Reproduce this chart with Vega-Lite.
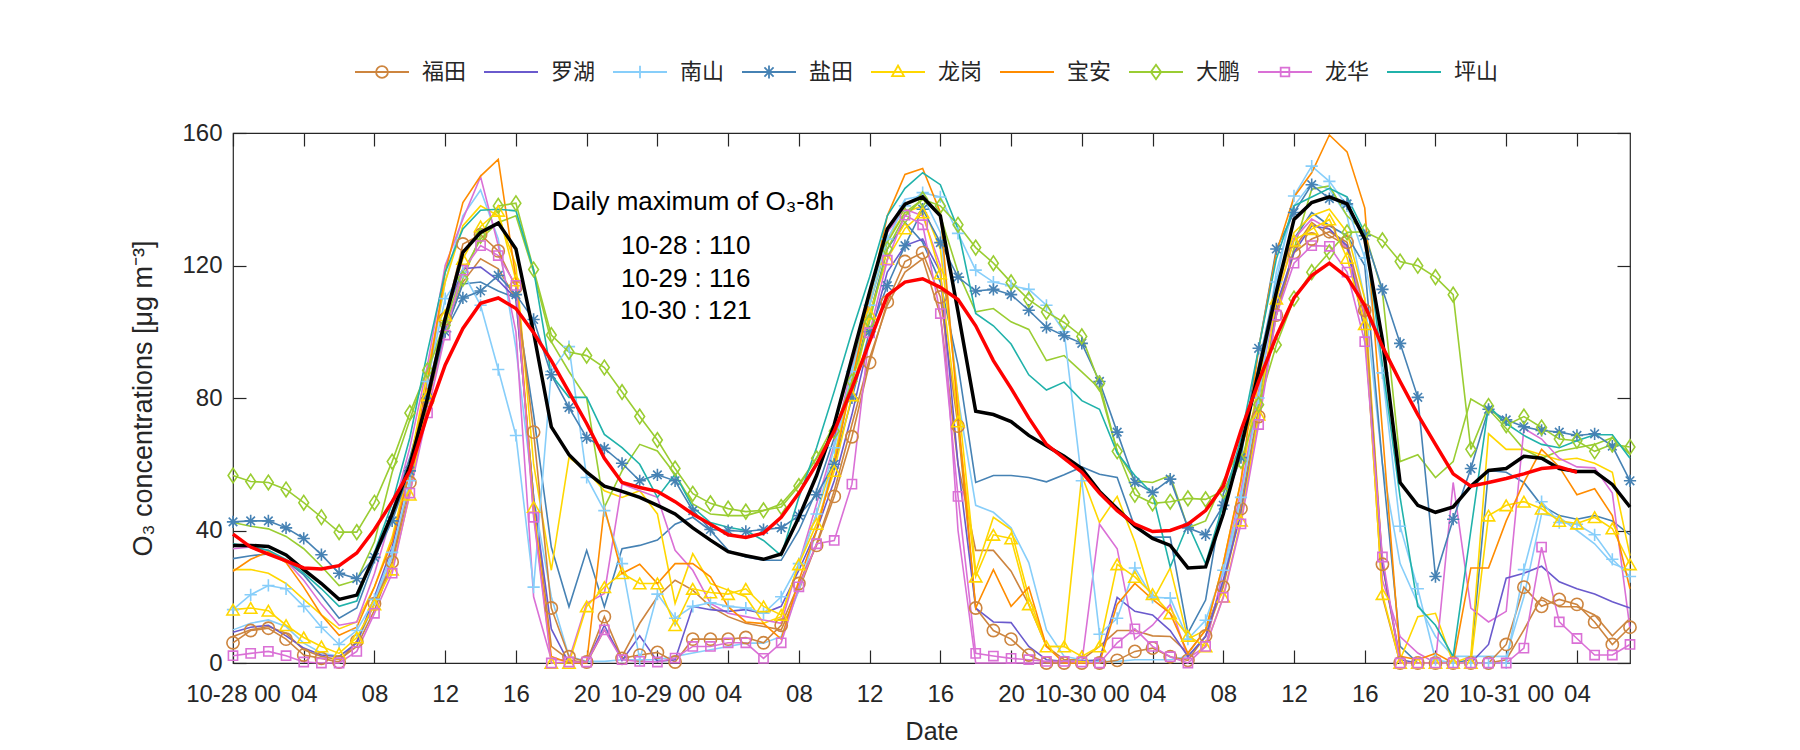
{
  "$schema": "https://vega.github.io/schema/vega-lite/v6.json",
  "width": 1397,
  "height": 530,
  "autosize": "none",
  "padding": {"left": 233, "top": 133, "right": 170, "bottom": 87},
  "background": "#ffffff",
  "config": {
    "view": {"stroke": "#262626", "strokeWidth": 1.2},
    "axis": {"grid": false, "domain": false, "tickColor": "#262626", "tickWidth": 1.2, "tickSize": -13, "labelColor": "#262626", "labelFont": "Liberation Sans", "labelFontSize": 24, "titleFont": "Liberation Sans", "titleFontSize": 25, "titleFontWeight": "normal", "titleColor": "#262626"}
  },
  "data": {"values": [
{"h":0,"福田":6.1,"福田b":8,"罗湖":9.3,"南山":16.1,"南山b":10,"盐田":42.6,"盐田b":31.5,"龙岗":16.1,"龙岗b":28.2,"宝安":27.7,"大鹏":56.6,"大鹏b":42.4,"龙华":2.2,"龙华b":34.5,"坪山":36,"avg":35.5,"ma8":38.9},
{"h":1,"福田":9.8,"福田b":10,"罗湖":10.8,"南山":20.6,"南山b":12,"盐田":42.9,"盐田b":32.4,"龙岗":16.6,"龙岗b":28.2,"宝安":31.3,"大鹏":54.8,"大鹏b":41.3,"龙华":2.9,"龙华b":35,"坪山":35.2,"avg":35.5,"ma8":35},
{"h":2,"福田":10.5,"福田b":11,"罗湖":11.4,"南山":23.4,"南山b":13,"盐田":42.9,"盐田b":32.9,"龙岗":15.8,"龙岗b":27.1,"宝安":33.6,"大鹏":54.5,"大鹏b":40.5,"龙华":3.5,"龙华b":34,"坪山":34,"avg":35.2,"ma8":32.9},
{"h":3,"福田":7.2,"福田b":9,"罗湖":8.2,"南山":22.4,"南山b":11,"盐田":40.8,"盐田b":30.8,"龙岗":11.4,"龙岗b":24,"宝安":30.3,"大鹏":52.4,"大鹏b":38.2,"龙华":2.2,"龙华b":30.8,"坪山":31.3,"avg":32.6,"ma8":30.8},
{"h":4,"福田":2.4,"福田b":4,"罗湖":4.5,"南山":17.1,"南山b":6,"盐田":37.6,"盐田b":26.6,"龙岗":7.7,"龙岗b":19.2,"宝安":22.9,"大鹏":48.4,"大鹏b":34.5,"龙华":0.3,"龙华b":25,"坪山":27.1,"avg":28.2,"ma8":28.7},
{"h":5,"福田":1.4,"福田b":2,"罗湖":2.4,"南山":10.8,"南山b":3,"盐田":32.7,"盐田b":20.3,"龙岗":5,"龙岗b":14.5,"宝安":14.5,"大鹏":44,"大鹏b":29.2,"龙华":0,"龙华b":17.7,"坪山":22.4,"avg":24,"ma8":28.4},
{"h":6,"福田":0.3,"福田b":1,"罗湖":1.9,"南山":5.6,"南山b":2,"盐田":27.1,"盐田b":13.5,"龙岗":2.9,"龙岗b":10.3,"宝安":8.4,"大鹏":39.5,"大鹏b":23.4,"龙华":0,"龙华b":11.4,"坪山":17.1,"avg":19.2,"ma8":29.4},
{"h":7,"福田":6.6,"福田b":5,"罗湖":6.1,"南山":9.8,"南山b":6,"盐田":25.5,"盐田b":16.6,"龙岗":7.7,"龙岗b":12.4,"宝安":10.8,"大鹏":39.5,"大鹏b":25,"龙华":3.5,"龙华b":12.4,"坪山":18.7,"avg":20.5,"ma8":33.2},
{"h":8,"福田":17.9,"福田b":16,"罗湖":20,"南山":19.2,"南山b":18,"盐田":31.9,"盐田b":31,"龙岗":17.7,"龙岗b":23,"宝安":23,"大鹏":48.4,"大鹏b":36.6,"龙华":15,"龙华b":27,"坪山":33.4,"avg":32.4,"ma8":40.3},
{"h":9,"福田":30.5,"福田b":30,"罗湖":35,"南山":33.4,"南山b":32,"盐田":42.9,"盐田b":46,"龙岗":28.2,"龙岗b":38,"宝安":36.6,"大鹏":60.8,"大鹏b":57.6,"龙华":27.1,"龙华b":45,"坪山":48.2,"avg":45,"ma8":48.7},
{"h":10,"福田":54.5,"福田b":52,"罗湖":58,"南山":55,"南山b":55,"盐田":58,"盐田b":62,"龙岗":50.8,"龙岗b":60,"宝安":58,"大鹏":75.5,"大鹏b":73.4,"龙华":51.3,"龙华b":65,"坪山":68,"avg":59.7,"ma8":58},
{"h":11,"福田":79.2,"福田b":78,"罗湖":82,"南山":85,"南山b":85,"盐田":80,"盐田b":82,"龙岗":80.8,"龙岗b":88,"宝安":85,"大鹏":88.4,"大鹏b":89,"龙华":75.5,"龙华b":90,"坪山":94,"avg":80,"ma8":75},
{"h":12,"福田":103.9,"福田b":100,"罗湖":105,"南山":110,"南山b":115,"盐田":100,"盐田b":100,"龙岗":105,"龙岗b":115,"宝安":118,"大鹏":102,"大鹏b":103,"龙华":99,"龙华b":120,"坪山":118,"avg":104,"ma8":90},
{"h":13,"福田":126.5,"福田b":115,"罗湖":119,"南山":118,"南山b":135,"盐田":110.2,"盐田b":114.4,"龙岗":122,"龙岗b":132,"宝安":139,"大鹏":116,"大鹏b":118,"龙华":118.6,"龙华b":134,"坪山":131,"avg":124,"ma8":101},
{"h":14,"福田":129.3,"福田b":122,"罗湖":119.5,"南山":108,"南山b":142.8,"盐田":112.3,"盐田b":115,"龙岗":131.8,"龙岗b":138,"宝安":147,"大鹏":129,"大鹏b":128,"龙华":126,"龙华b":146.8,"坪山":136.7,"avg":130,"ma8":108.6},
{"h":15,"福田":124.4,"福田b":119,"罗湖":115.5,"南山":88.6,"南山b":128,"盐田":117,"盐田b":112.3,"龙岗":136.5,"龙岗b":135,"宝安":152,"大鹏":138,"大鹏b":133,"龙华":123,"龙华b":126,"坪山":137,"avg":132.8,"ma8":110.2},
{"h":16,"福田":113.4,"福田b":110,"罗湖":110,"南山":68.7,"南山b":95,"盐田":111.2,"盐田b":110.2,"龙岗":115.5,"龙岗b":120,"宝安":116,"大鹏":138.8,"大鹏b":135,"龙华":114,"龙华b":100,"坪山":136.5,"avg":125,"ma8":107},
{"h":17,"福田":69.7,"福田b":50,"罗湖":50,"南山":22.9,"南山b":50,"盐田":103.7,"盐田b":75,"龙岗":47.1,"龙岗b":60,"宝安":45,"大鹏":118.8,"大鹏b":118,"龙华":44,"龙华b":20,"坪山":118.6,"avg":99.7,"ma8":99.7},
{"h":18,"福田":16.6,"福田b":5,"罗湖":10.3,"南山":88,"南山b":20,"盐田":87,"盐田b":35,"龙岗":0,"龙岗b":28,"宝安":2,"大鹏":99,"大鹏b":97,"龙华":0,"龙华b":1,"坪山":87,"avg":71.3,"ma8":91.3},
{"h":19,"福田":1.9,"福田b":1,"罗湖":0,"南山":95.5,"南山b":2,"盐田":77.1,"盐田b":17,"龙岗":0,"龙岗b":62,"宝安":0,"大鹏":93.9,"大鹏b":88,"龙华":0.3,"龙华b":1,"坪山":80.2,"avg":62.9,"ma8":81.8},
{"h":20,"福田":0.3,"福田b":0,"罗湖":0,"南山":56,"南山b":0.5,"盐田":68,"盐田b":34,"龙岗":17.1,"龙岗b":58,"宝安":0,"大鹏":92.8,"大鹏b":80,"龙华":0.3,"龙华b":18,"坪山":80.2,"avg":57.6,"ma8":72.3},
{"h":21,"福田":14,"福田b":10,"罗湖":11.4,"南山":46,"南山b":0.5,"盐田":64.8,"盐田b":17,"龙岗":22.9,"龙岗b":52,"宝安":47,"大鹏":89.2,"大鹏b":47,"龙华":10,"龙华b":21,"坪山":69,"avg":53.4,"ma8":61.8},
{"h":22,"福田":1.4,"福田b":2,"罗湖":0.8,"南山":30,"南山b":1,"盐田":60.3,"盐田b":34.5,"龙岗":27.1,"龙岗b":50,"宝安":27,"大鹏":81.8,"大鹏b":58,"龙华":1,"龙华b":54,"坪山":65,"avg":51.8,"ma8":54.5},
{"h":23,"福田":2.4,"福田b":12,"罗湖":8.2,"南山":1,"南山b":1,"盐田":55,"盐田b":35.5,"龙岗":24,"龙岗b":52,"宝安":29.8,"大鹏":74.4,"大鹏b":66,"龙华":0.5,"龙华b":52,"坪山":60,"avg":50,"ma8":53},
{"h":24,"福田":3.2,"福田b":20,"罗湖":0.5,"南山":20.8,"南山b":1,"盐田":56.8,"盐田b":37.1,"龙岗":24,"龙岗b":45,"宝安":24,"大鹏":67.3,"大鹏b":64,"龙华":0.3,"龙华b":50,"坪山":50,"avg":47.6,"ma8":51.8},
{"h":25,"福田":0.3,"福田b":25,"罗湖":1,"南山":13.5,"南山b":2,"盐田":55,"盐田b":41.9,"龙岗":11.4,"龙岗b":18,"宝安":30,"大鹏":58.7,"大鹏b":57,"龙华":1.5,"龙华b":34,"坪山":57,"avg":45,"ma8":48.7},
{"h":26,"福田":7.2,"福田b":22,"罗湖":17.1,"南山":17.1,"南山b":3,"盐田":46,"盐田b":44,"龙岗":22.4,"龙岗b":33,"宝安":30,"大鹏":51.1,"大鹏b":48,"龙华":5,"龙华b":28,"坪山":47,"avg":40.8,"ma8":45},
{"h":27,"福田":7.2,"福田b":17,"罗湖":16.1,"南山":18.2,"南山b":4,"盐田":40.3,"盐田b":40,"龙岗":21.3,"龙岗b":24,"宝安":26,"大鹏":48.2,"大鹏b":45,"龙华":5,"龙华b":18,"坪山":42.4,"avg":37.1,"ma8":41.9},
{"h":28,"福田":7.2,"福田b":14,"罗湖":15.6,"南山":17.1,"南山b":5,"盐田":40,"盐田b":34,"龙岗":20.8,"龙岗b":22,"宝安":17,"大鹏":46.6,"大鹏b":44.5,"龙华":6.1,"龙华b":15,"坪山":41,"avg":33.6,"ma8":38.7},
{"h":29,"福田":7.7,"福田b":12,"罗湖":16.1,"南山":16.6,"南山b":6,"盐田":39.7,"盐田b":32,"龙岗":22.4,"龙岗b":20,"宝安":12.4,"大鹏":45.7,"大鹏b":44.5,"龙华":6.1,"龙华b":14,"坪山":40,"avg":32.4,"ma8":37.9},
{"h":30,"福田":6.1,"福田b":11,"罗湖":15,"南山":15,"南山b":6,"盐田":40.3,"盐田b":31,"龙岗":17.1,"龙岗b":12,"宝安":11.9,"大鹏":46.1,"大鹏b":46,"龙华":1.4,"龙华b":13,"坪山":37,"avg":31.3,"ma8":39.2},
{"h":31,"福田":11.4,"福田b":10,"罗湖":17.1,"南山":20,"南山b":8,"盐田":40.8,"盐田b":31,"龙岗":14.5,"龙岗b":14,"宝安":7.2,"大鹏":47.1,"大鹏b":48,"龙华":6.1,"龙华b":12,"坪山":32.4,"avg":32.9,"ma8":44},
{"h":32,"福田":24,"福田b":22,"罗湖":28,"南山":30,"南山b":22,"盐田":44.5,"盐田b":40,"龙岗":29.8,"龙岗b":30,"宝安":25,"大鹏":53.4,"大鹏b":54,"龙华":23,"龙华b":30,"坪山":50,"avg":44,"ma8":51.3},
{"h":33,"福田":35.5,"福田b":36,"罗湖":40,"南山":45,"南山b":40,"盐田":50.8,"盐田b":52,"龙岗":42,"龙岗b":45,"宝安":40,"大鹏":61.8,"大鹏b":62,"龙华":36,"龙华b":48,"坪山":65,"avg":56.6,"ma8":60},
{"h":34,"福田":50.3,"福田b":52,"罗湖":55,"南山":65,"南山b":62,"盐田":60,"盐田b":68,"龙岗":58,"龙岗b":62,"宝安":60,"大鹏":70,"大鹏b":72,"龙华":37,"龙华b":66,"坪山":82,"avg":72,"ma8":70},
{"h":35,"福田":68.3,"福田b":72,"罗湖":75,"南山":88,"南山b":88,"盐田":80,"盐田b":85,"龙岗":80.8,"龙岗b":85,"宝安":85,"大鹏":85,"大鹏b":90,"龙华":54,"龙华b":90,"坪山":100,"avg":92,"ma8":83},
{"h":36,"福田":90.7,"福田b":92,"罗湖":98,"南山":108,"南山b":110,"盐田":100,"盐田b":105,"龙岗":105.5,"龙岗b":108,"宝安":110,"大鹏":103,"大鹏b":108,"龙华":99.7,"龙华b":112,"坪山":116.5,"avg":112,"ma8":97},
{"h":37,"福田":109,"福田b":108,"罗湖":118,"南山":128,"南山b":130,"盐田":113.9,"盐田b":125,"龙岗":122,"龙岗b":128,"宝安":135,"大鹏":125,"大鹏b":127,"龙华":121.6,"龙华b":130,"坪山":135,"avg":131,"ma8":111},
{"h":38,"福田":121.2,"福田b":118,"罗湖":126,"南山":138,"南山b":140,"盐田":126,"盐田b":133,"龙岗":131.2,"龙岗b":136,"宝安":147.5,"大鹏":135,"大鹏b":136,"龙华":135.2,"龙华b":137,"坪山":143.3,"avg":138.5,"ma8":115},
{"h":39,"福田":123.9,"福田b":122,"罗湖":128,"南山":142,"南山b":141,"盐田":137,"盐田b":127,"龙岗":136,"龙岗b":138,"宝安":149.3,"大鹏":140,"大鹏b":140,"龙华":132.3,"龙华b":135,"坪山":148,"avg":140.7,"ma8":116},
{"h":40,"福田":110.5,"福田b":105,"罗湖":118,"南山":140.7,"南山b":130,"盐田":126.9,"盐田b":115,"龙岗":117.6,"龙岗b":125,"宝安":136,"大鹏":138,"大鹏b":135,"龙华":105.5,"龙华b":120,"坪山":144.4,"avg":135,"ma8":113.4},
{"h":41,"福田":71.5,"福田b":60,"罗湖":60,"南山":129.7,"南山b":80,"盐田":116.5,"盐田b":90,"龙岗":72.9,"龙岗b":80,"宝安":75,"大鹏":132.3,"大鹏b":118,"龙华":50.3,"龙华b":40,"坪山":131,"avg":106,"ma8":109.7},
{"h":42,"福田":16.6,"福田b":34,"罗湖":16.6,"南山":118.6,"南山b":47.6,"盐田":112.3,"盐田b":54.5,"龙岗":26.1,"龙岗b":27.7,"宝安":16.6,"大鹏":125.4,"大鹏b":106,"龙华":2.9,"龙华b":0,"坪山":105.5,"avg":76,"ma8":101.8},
{"h":43,"福田":9.8,"福田b":34,"罗湖":12.4,"南山":115,"南山b":45.5,"盐田":112.8,"盐田b":56.6,"龙岗":38.7,"龙岗b":44,"宝安":28.2,"大鹏":120.7,"大鹏b":107,"龙华":2.1,"龙华b":0,"坪山":101.8,"avg":75,"ma8":91.3},
{"h":44,"福田":7.2,"福田b":27.7,"罗湖":12.2,"南山":113.9,"南山b":40.8,"盐田":111.2,"盐田b":56.6,"龙岗":37.6,"龙岗b":40.3,"宝安":17.1,"大鹏":114.9,"大鹏b":103,"龙华":1.4,"龙华b":0,"坪山":96.3,"avg":72.9,"ma8":82.9},
{"h":45,"福田":2.4,"福田b":17.7,"罗湖":5,"南山":112.8,"南山b":30.3,"盐田":106.5,"盐田b":56,"龙岗":17.7,"龙岗b":20,"宝安":22.9,"大鹏":109.7,"大鹏b":100.7,"龙华":1,"龙华b":0,"坪山":87,"avg":68.7,"ma8":74},
{"h":46,"福田":0,"福田b":5,"罗湖":1,"南山":108,"南山b":10,"盐田":101.3,"盐田b":54.7,"龙岗":5,"龙岗b":5,"宝安":5,"大鹏":106,"大鹏b":91.3,"龙华":0.5,"龙华b":0,"坪山":82.4,"avg":65.5,"ma8":66},
{"h":47,"福田":0,"福田b":1,"罗湖":0.5,"南山":100,"南山b":2,"盐田":98.8,"盐田b":56.8,"龙岗":5,"龙岗b":5,"宝安":0,"大鹏":102.8,"大鹏b":92.8,"龙华":0.5,"龙华b":0,"坪山":84.8,"avg":62.4,"ma8":61.8},
{"h":48,"福田":0,"福田b":1,"罗湖":0.5,"南山":55,"南山b":1,"盐田":96.5,"盐田b":59.2,"龙岗":2,"龙岗b":56.6,"宝安":0,"大鹏":98.6,"大鹏b":87.9,"龙华":0.3,"龙华b":0,"坪山":79.2,"avg":58.7,"ma8":57.6},
{"h":49,"福田":0,"福田b":5,"罗湖":1,"南山":8.7,"南山b":0.5,"盐田":85,"盐田b":57,"龙岗":5,"龙岗b":42.4,"宝安":0,"大鹏":84.4,"大鹏b":82.9,"龙华":0,"龙华b":41.9,"坪山":76.6,"avg":51.8,"ma8":51.3},
{"h":50,"福田":0.8,"福田b":9.8,"罗湖":19.8,"南山":13.5,"南山b":0.5,"盐田":69.7,"盐田b":56,"龙岗":29.8,"龙岗b":50.3,"宝安":17.7,"大鹏":63.9,"大鹏b":63.9,"龙华":6.1,"龙华b":34.5,"坪山":63.4,"avg":46.6,"ma8":46},
{"h":51,"福田":3.5,"福田b":9.8,"罗湖":15.6,"南山":28.7,"南山b":1,"盐田":54.5,"盐田b":41,"龙岗":26,"龙岗b":36.6,"宝安":24,"大鹏":50.8,"大鹏b":55,"龙华":10.3,"龙华b":7.2,"坪山":56.6,"avg":41.3,"ma8":41.9},
{"h":52,"福田":4.5,"福田b":8.2,"罗湖":14.5,"南山":19.8,"南山b":1,"盐田":51.5,"盐田b":38,"龙岗":20.8,"龙岗b":18.7,"宝安":19.2,"大鹏":48.2,"大鹏b":54.5,"龙华":5,"龙华b":11.4,"坪山":51.1,"avg":37.6,"ma8":39.7},
{"h":53,"福田":1.9,"福田b":8,"罗湖":9.8,"南山":19.6,"南山b":1,"盐田":55.5,"盐田b":38,"龙岗":15,"龙岗b":28.7,"宝安":15,"大鹏":48.7,"大鹏b":56.6,"龙华":1.9,"龙华b":17.7,"坪山":29,"avg":35.5,"ma8":40},
{"h":54,"福田":0.8,"福田b":3,"罗湖":2,"南山":7.2,"南山b":2,"盐田":40.8,"盐田b":9,"龙岗":8.2,"龙岗b":7.2,"宝安":2.9,"大鹏":49.7,"大鹏b":40.8,"龙华":0,"龙华b":1.4,"坪山":41.9,"avg":28.7,"ma8":41.9},
{"h":55,"福田":8.2,"福田b":10,"罗湖":8,"南山":12.9,"南山b":8,"盐田":38.7,"盐田b":19,"龙岗":5,"龙岗b":10,"宝安":10,"大鹏":49.4,"大鹏b":42.9,"龙华":5,"龙华b":5,"坪山":30,"avg":29,"ma8":46},
{"h":56,"福田":22.9,"福田b":24,"罗湖":25,"南山":28,"南山b":25,"盐田":47.6,"盐田b":51,"龙岗":20,"龙岗b":30,"宝安":30,"大鹏":52,"大鹏b":55,"龙华":19.8,"龙华b":28,"坪山":48,"avg":45,"ma8":53.4},
{"h":57,"福田":46.6,"福田b":48,"罗湖":45,"南山":50,"南山b":50,"盐田":62,"盐田b":65,"龙岗":43,"龙岗b":55,"宝安":55,"大鹏":61,"大鹏b":65,"龙华":42,"龙华b":52,"坪山":68,"avg":65,"ma8":70.2},
{"h":58,"福田":74.4,"福田b":77,"罗湖":75,"南山":80,"南山b":82,"盐田":95,"盐田b":90,"龙岗":75,"龙岗b":85,"宝安":95,"大鹏":78,"大鹏b":80,"龙华":72,"龙华b":82,"坪山":95,"avg":88,"ma8":85},
{"h":59,"福田":105,"福田b":106,"罗湖":108,"南山":115,"南山b":118,"盐田":125,"盐田b":115,"龙岗":110,"龙岗b":112,"宝安":123.9,"大鹏":96,"大鹏b":105,"龙华":105,"龙华b":110,"坪山":122,"avg":112,"ma8":98.6},
{"h":60,"福田":123.9,"福田b":125,"罗湖":124,"南山":141,"南山b":138,"盐田":136,"盐田b":128,"龙岗":127.5,"龙岗b":130,"宝安":140.7,"大鹏":110,"大鹏b":125,"龙华":120.7,"龙华b":128,"坪山":138,"avg":133.9,"ma8":110.2},
{"h":61,"福田":128,"福田b":133,"罗湖":132,"南山":150,"南山b":145,"盐田":144.4,"盐田b":136,"龙岗":131,"龙岗b":135,"宝安":148,"大鹏":118,"大鹏b":143,"龙华":126,"龙华b":134,"坪山":140.7,"avg":139,"ma8":117},
{"h":62,"福田":130.2,"福田b":129,"罗湖":131,"南山":145.4,"南山b":143,"盐田":140.2,"盐田b":132,"龙岗":133.9,"龙岗b":137,"宝安":159.4,"大鹏":124,"大鹏b":144,"龙华":125.8,"龙华b":131,"坪山":143.3,"avg":140.7,"ma8":120.7},
{"h":63,"福田":127,"福田b":126,"罗湖":126,"南山":138,"南山b":135,"盐田":138.6,"盐田b":129,"龙岗":122.3,"龙岗b":130,"宝安":154.3,"大鹏":130,"大鹏b":135,"龙华":118,"龙华b":125,"坪山":140.7,"avg":138.6,"ma8":116.5},
{"h":64,"福田":106.5,"福田b":104,"罗湖":100,"南山":122.3,"南山b":110,"盐田":129,"盐田b":120,"龙岗":102.3,"龙岗b":110,"宝安":137.4,"大鹏":130.2,"大鹏b":130,"龙华":97,"龙华b":105,"坪山":130,"avg":128,"ma8":108},
{"h":65,"福田":29.8,"福田b":20,"罗湖":30,"南山":87.6,"南山b":60,"盐田":112.8,"盐田b":60,"龙岗":20.8,"龙岗b":30,"宝安":70,"大鹏":127.6,"大鹏b":112,"龙华":32,"龙华b":25,"坪山":90,"avg":97.6,"ma8":95.5},
{"h":66,"福田":0,"福田b":0,"罗湖":1,"南山":41.3,"南山b":30,"盐田":96.5,"盐田b":5,"龙岗":0,"龙岗b":1,"宝安":2,"大鹏":121.2,"大鹏b":60.8,"龙华":0,"龙华b":8,"坪山":50,"avg":54.5,"ma8":85},
{"h":67,"福田":0,"福田b":0,"罗湖":0,"南山":22.4,"南山b":18,"盐田":80.2,"盐田b":0,"龙岗":0,"龙岗b":14,"宝安":1,"大鹏":119.9,"大鹏b":62.9,"龙华":0,"龙华b":3,"坪山":17.1,"avg":47.6,"ma8":75},
{"h":68,"福田":0,"福田b":0,"罗湖":0,"南山":1,"南山b":8,"盐田":26.1,"盐田b":0,"龙岗":0,"龙岗b":15,"宝安":2.9,"大鹏":116.5,"大鹏b":56,"龙华":0,"龙华b":0,"坪山":11.4,"avg":45.5,"ma8":66},
{"h":69,"福田":0,"福田b":0,"罗湖":0,"南山":0,"南山b":2,"盐田":43.4,"盐田b":0,"龙岗":0,"龙岗b":0,"宝安":0,"大鹏":111.2,"大鹏b":60.8,"龙华":0,"龙华b":54.5,"坪山":1.9,"avg":47.1,"ma8":57.1},
{"h":70,"福田":0,"福田b":0,"罗湖":0,"南山":0,"南山b":2,"盐田":58.7,"盐田b":1,"龙岗":0,"龙岗b":2,"宝安":28.7,"大鹏":64.5,"大鹏b":79.7,"龙华":0,"龙华b":16.6,"坪山":40,"avg":53.4,"ma8":53.4},
{"h":71,"福田":0,"福田b":0,"罗湖":5.6,"南山":0,"南山b":2,"盐田":76.6,"盐田b":58.1,"龙岗":44.5,"龙岗b":69.2,"宝安":28.7,"大鹏":77.6,"大鹏b":76.6,"龙华":0,"龙华b":12.4,"坪山":77.6,"avg":58.1,"ma8":54.5},
{"h":72,"福田":5.6,"福田b":1,"罗湖":25.6,"南山":0,"南山b":2,"盐田":73.4,"盐田b":57.6,"龙岗":47.6,"龙岗b":64.5,"宝安":42.9,"大鹏":71.8,"大鹏b":70.8,"龙华":0,"龙华b":15.6,"坪山":72.3,"avg":58.7,"ma8":55.7},
{"h":73,"福田":22.9,"福田b":10,"罗湖":27.1,"南山":28.2,"南山b":20,"盐田":71.3,"盐田b":54.5,"龙岗":48.7,"龙岗b":64.5,"宝安":54.5,"大鹏":74.4,"大鹏b":64.5,"龙华":4.5,"龙华b":70.8,"坪山":68.7,"avg":62.4,"ma8":57.1},
{"h":74,"福田":17.1,"福田b":19.8,"罗湖":29.2,"南山":48.7,"南山b":45,"盐田":70.2,"盐田b":47.6,"龙岗":46.6,"龙岗b":62.9,"宝安":64.5,"大鹏":71.1,"大鹏b":61.8,"龙华":35,"龙华b":67.6,"坪山":66,"avg":61.8,"ma8":58.7},
{"h":75,"福田":19.2,"福田b":17,"罗湖":24.5,"南山":42.4,"南山b":44,"盐田":69.7,"盐田b":44.5,"龙岗":42.9,"龙岗b":61.3,"宝安":59.2,"大鹏":67.6,"大鹏b":64,"龙华":12.4,"龙华b":61.8,"坪山":65,"avg":58.7,"ma8":59.2},
{"h":76,"福田":17.7,"福田b":17,"罗湖":22.4,"南山":41.9,"南山b":40,"盐田":68.7,"盐田b":43.4,"龙岗":42.1,"龙岗b":61.8,"宝安":50.8,"大鹏":67.1,"大鹏b":65,"龙华":7.4,"龙华b":59.2,"坪山":67.1,"avg":57.8,"ma8":57.6},
{"h":77,"福田":12.4,"福田b":14.5,"罗湖":20.8,"南山":38.7,"南山b":36,"盐田":69.2,"盐田b":44.5,"龙岗":44,"龙岗b":60.3,"宝安":52.6,"大鹏":63.9,"大鹏b":66,"龙华":2.4,"龙华b":58.9,"坪山":68.9,"avg":57.8,"ma8":null},
{"h":78,"福田":5.6,"福田b":8.2,"罗湖":18.5,"南山":31.3,"南山b":30,"盐田":65.5,"盐田b":42.9,"龙岗":40.6,"龙岗b":57.6,"宝安":44.5,"大鹏":66,"大鹏b":68,"龙华":2.4,"龙华b":51.3,"坪山":68.9,"avg":53.9,"ma8":null},
{"h":79,"福田":10.8,"福田b":13.5,"罗湖":16.6,"南山":26.1,"南山b":28,"盐田":55,"盐田b":38.7,"龙岗":29.8,"龙岗b":32.4,"宝安":22.4,"大鹏":65.2,"大鹏b":63,"龙华":5.6,"龙华b":10.3,"坪山":61.8,"avg":47.1,"ma8":null}
  ]},
  "layer": [
    {
      "transform": [{"fold": ["福田b","南山b","盐田b","龙岗b","大鹏b","龙华b","福田","罗湖","南山","盐田","龙岗","宝安","大鹏","龙华","坪山"], "as": ["key", "v"]}],
      "mark": {"type": "line", "strokeWidth": 1.6},
      "encoding": {
        "x": {"field": "h", "type": "quantitative", "scale": {"domain": [0, 79], "nice": false, "zero": false},
          "axis": {"orient": "bottom", "values": [0,4,8,12,16,20,24,28,32,36,40,44,48,52,56,60,64,68,72,76], "labelExpr": "datum.value % 24 === 0 ? '10-' + (28 + datum.value / 24) + ' 00' : (datum.value % 24 < 10 ? '0' : '') + (datum.value % 24)", "labelOverlap": false, "labelFlush": false, "labelPadding": 32, "title": "Date", "titlePadding": 13}},
        "y": {"field": "v", "type": "quantitative", "scale": {"domain": [0, 160], "nice": false},
          "axis": {"orient": "left", "values": [0, 40, 80, 120, 160], "labelPadding": 24, "title": "O₃ concentrations [μg m⁻³]", "titleFontSize": 27, "titlePadding": 24}},
        "color": {"field": "key", "type": "nominal",
          "scale": {"domain": ["福田","福田b","罗湖","南山","南山b","盐田","盐田b","龙岗","龙岗b","宝安","大鹏","大鹏b","龙华","龙华b","坪山"],
                    "range": ["#CD853F","#CD853F","#6A5ACD","#87CEFA","#87CEFA","#4682B4","#4682B4","#FFD700","#FFD700","#FF8C00","#9ACD32","#9ACD32","#DA70D6","#DA70D6","#20B2AA"]},
          "legend": {"orient": "none", "legendX": 121, "legendY": -89, "direction": "horizontal", "title": null,
            "values": ["福田","罗湖","南山","盐田","龙岗","宝安","大鹏","龙华","坪山"],
            "symbolSize": 2916, "symbolStrokeWidth": 1.8, "labelFont": "Noto Sans CJK SC", "labelFontSize": 22, "labelColor": "#262626", "labelOffset": 12, "columnPadding": 13,
            "encode": {"symbols": {"update": {"fill": {"value": "transparent"}, "shape": {"signal": "datum.value === '福田' ? 'M-1,0H1M0.22,0A0.22,0.22,0,1,1,-0.22,0A0.22,0.22,0,1,1,0.22,0' : datum.value === '南山' ? 'M-1,0H1M0,-0.23V0.23' : datum.value === '盐田' ? 'M-1,0H1M0,-0.24V0.24M-0.17,-0.17L0.17,0.17M-0.17,0.17L0.17,-0.17' : datum.value === '龙岗' ? 'M-1,0H1M0,-0.24L0.22,0.15L-0.22,0.15Z' : datum.value === '大鹏' ? 'M-1,0H1M0,-0.27L0.19,0L0,0.27L-0.19,0Z' : datum.value === '龙华' ? 'M-1,0H1M-0.16,-0.16H0.16V0.16H-0.16Z' : 'M-1,0H1'"}}}}}
        }
      }
    },
    {
      "transform": [{"fold": ["福田","南山","盐田","龙岗","大鹏","龙华"], "as": ["key", "v"]}],
      "mark": {"type": "point", "filled": false, "size": 150, "strokeWidth": 1.6, "opacity": 1},
      "encoding": {
        "x": {"field": "h", "type": "quantitative", "axis": null},
        "y": {"field": "v", "type": "quantitative", "axis": null},
        "stroke": {"field": "key", "type": "nominal", "scale": {"domain": ["福田","南山","盐田","龙岗","大鹏","龙华"], "range": ["#CD853F","#87CEFA","#4682B4","#FFD700","#9ACD32","#DA70D6"]}, "legend": null},
        "shape": {"field": "key", "type": "nominal", "scale": {"domain": ["福田","南山","盐田","龙岗","大鹏","龙华"], "range": ["circle","M-1,0H1M0,-1V1","M-1,0H1M0,-1V1M-0.7,-0.7L0.7,0.7M-0.7,0.7L0.7,-0.7","triangle-up","M0,-1.2L0.8,0L0,1.2L-0.8,0Z","M-0.75,-0.75H0.75V0.75H-0.75Z"]}, "legend": null}
      }
    },
    {
      "mark": {"type": "line", "color": "#000000", "strokeWidth": 3.5},
      "encoding": {
        "x": {"field": "h", "type": "quantitative", "axis": null},
        "y": {"field": "avg", "type": "quantitative", "axis": null}
      }
    },
    {
      "mark": {"type": "line", "color": "#FF0000", "strokeWidth": 3.5},
      "encoding": {
        "x": {"field": "h", "type": "quantitative", "axis": null},
        "y": {"field": "ma8", "type": "quantitative", "axis": null}
      }
    },
    {
      "mark": {"type": "point", "opacity": 0},
      "encoding": {
        "x": {"field": "h", "type": "quantitative", "axis": {"orient": "top", "values": [0,4,8,12,16,20,24,28,32,36,40,44,48,52,56,60,64,68,72,76], "labels": false, "title": null}},
        "y": {"field": "avg", "type": "quantitative", "axis": {"orient": "right", "values": [0, 40, 80, 120, 160], "labels": false, "title": null}}
      }
    },
    {
      "data": {"values": [
        {"x": 26.0, "y": 139.2, "t": "Daily maximum of O₃-8h"},
        {"x": 25.6, "y": 125.9, "t": "10-28 : 110"},
        {"x": 25.6, "y": 115.9, "t": "10-29 : 116"},
        {"x": 25.6, "y": 106.3, "t": "10-30 : 121"}
      ]},
      "mark": {"type": "text", "font": "Liberation Sans", "fontSize": 26, "color": "#000000", "align": "center", "baseline": "middle"},
      "encoding": {
        "x": {"field": "x", "type": "quantitative", "axis": null},
        "y": {"field": "y", "type": "quantitative", "axis": null},
        "text": {"field": "t", "type": "nominal"}
      }
    }
  ],
  "resolve": {"axis": {"x": "independent", "y": "independent"}}
}
